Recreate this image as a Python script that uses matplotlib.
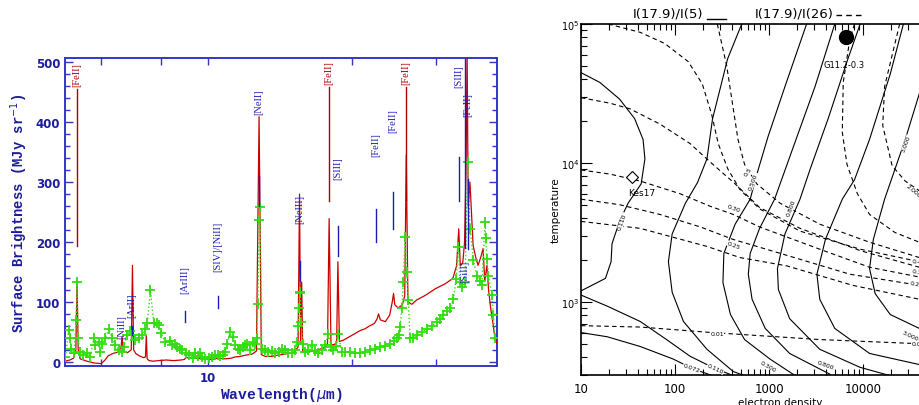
# -*- coding: utf-8 -*-
# spectrum and line-ratio diagnostic diagram
import numpy as np
import matplotlib.pyplot as plt
from matplotlib.lines import Line2D

# %% Spectrum data -------------------------------------------------------------

# red spectrum (wavelength in micron, surface brightness in MJy/sr)
red_wave = [5.04, 5.16, 5.25, 5.31, 5.34, 5.37, 5.42, 5.6, 5.8, 6.0, 6.11, 6.2,
            6.35, 6.5, 6.6, 6.63, 6.67, 6.8, 6.93, 6.97, 7.01, 7.08, 7.2, 7.35,
            7.42, 7.45, 7.48, 7.55, 7.7, 7.9, 8.2, 8.5, 8.8, 8.95, 9.0, 9.4,
            9.8, 10.2, 10.5, 10.9, 11.2, 11.4, 11.7, 12.0, 12.4, 12.65, 12.81,
            12.95, 13.2, 13.6, 14.0, 14.5, 15.2, 15.45, 15.56, 15.64, 15.72,
            15.8, 16.4, 17.0, 17.6, 17.8, 17.94, 18.1, 18.4, 18.6, 18.71, 18.85,
            19.2, 19.8, 20.3, 20.8, 21.3, 21.8, 22.3, 22.6, 22.75, 22.95, 23.5,
            24.0, 24.3, 24.45, 24.6, 25.0, 25.5, 25.8, 25.99, 26.2, 26.7, 27.3,
            28.5, 29.9, 31.3, 32.5, 33.1, 33.45, 33.7, 34.1, 34.4, 34.65, 34.82,
            35.0, 35.3, 35.84, 36.36, 36.7, 37.2, 37.6, 37.9, 38.3, 38.6, 39.0,
            39.5, 39.8, 40.2]
red_flux = [1, 3, 6, 20, 135, 20, 5, 1, -2, -3, 3, 10,
            14, 16, 25, 42, 18, 15, 20, 161, 20, 14, 10, 7,
            8, 44, 5, 2, 1, 2, 3, 2, 3, 4, 7, 6,
            5, 4, 6, 5, 6, 8, 9, 11, 13, 18, 409,
            12, 9, 9, 11, 13, 16, 25, 280, 30, 133,
            17, 17, 20, 24, 30, 239, 28, 29, 32, 167, 34,
            36, 42, 47, 52, 55, 60, 64, 72, 80, 70, 67,
            78, 100, 114, 95, 90, 95, 110, 345, 100, 96, 103,
            111, 122, 130, 139, 160, 222, 160, 165, 200, 330, 520,
            260, 300, 194, 172, 161, 175, 189, 134, 161, 120, 89,
            60, 39, 30]

# green spectrum (crosses)
green_wave = [5.05, 5.13, 5.17, 5.19, 5.26, 5.32, 5.34, 5.36, 5.42, 5.5, 5.6,
              5.69, 5.79, 5.83, 5.93, 5.97, 6.02, 6.12, 6.22, 6.32, 6.42, 6.53,
              6.63, 6.68, 6.79, 6.88, 6.96, 7.07, 7.18, 7.3, 7.42, 7.48, 7.6,
              7.72, 7.83, 7.91, 8.0, 8.16, 8.35, 8.43, 8.55, 8.64, 8.74, 8.83,
              9.0, 9.14, 9.34, 9.43, 9.55, 9.65, 9.74, 9.9, 10.06, 10.2, 10.35,
              10.53, 10.62, 10.75, 10.88, 11.0, 11.14, 11.32, 11.41, 11.6,
              11.69, 11.85, 11.97, 12.07, 12.27, 12.46, 12.57, 12.67, 12.73,
              12.83, 12.87, 12.98, 13.2, 13.4, 13.6, 13.84, 14.1, 14.3, 14.52,
              14.75, 14.99, 15.2, 15.36, 15.47, 15.53, 15.57, 15.61, 15.67,
              15.8, 15.98, 16.2, 16.5, 16.8, 17.04, 17.3, 17.6, 17.88, 18.1,
              18.31, 18.5, 18.7, 19.06, 19.4, 19.84, 20.3, 20.82, 21.3, 21.84,
              22.4, 22.92, 23.5, 24.04, 24.5, 24.83, 25.05, 25.23, 25.45, 25.63,
              25.84, 26.05, 26.25, 26.47, 26.9, 27.34, 28.0, 28.69, 29.4,
              30.1, 30.6, 31.08, 31.6, 32.09, 32.6, 33.03, 33.39, 33.66, 34.0,
              34.48, 34.93, 35.32, 35.9, 36.48, 37.0, 37.37, 37.96, 38.1,
              38.28, 38.57, 39.2, 39.51, 39.83]
green_flux = [8, 53, 39, 22, 14, 69, 133, 39, 17, 12, 14,
              8, 39, 28, 33, 17, 30, 40, 55, 39, 28, 19,
              17, 25, 44, 52, 44, 36, 39, 44, 55, 64, 119,
              64, 64, 61, 48, 33, 34, 28, 30, 25, 22, 19,
              15, 11, 6, 14, 10, 14, 8, 5, 6, 8, 12,
              11, 9, 12, 17, 30, 50, 42, 28, 22,
              19, 24, 28, 30, 19, 33, 30, 39, 97,
              236, 258, 22, 20, 17, 18, 14, 16, 21, 19,
              15, 14, 20, 33, 60, 89, 117, 114, 67,
              30, 17, 20, 28, 18, 14, 20, 28, 47, 25,
              19, 26, 47, 17, 16, 17, 15, 14, 17, 19,
              22, 25, 27, 30, 34, 39, 45, 58, 90, 133,
              208, 150, 103, 39, 40, 44, 50, 55, 60,
              67, 72, 78, 84, 89, 105, 139, 192, 133, 125,
              133, 333, 222, 170, 144, 135, 128, 233, 206,
              172, 144, 111, 78, 40]

# line identifications
id_names = ['[FeII]', '[NiII]', '[ArII]', '[ArIII]', '[SIV]/[NiII]', '[NeII]',
            '[NeIII]', '[FeII]', '[SIII]', '[FeII]', '[FeII]', '[FeII]',
            '[SIII]', '[FeII]', '[SiII]']
id_waves = [5.34, 6.61, 6.96, 8.98, 10.5, 12.81, 15.61, 17.94, 18.73, 22.48,
            24.39, 25.96, 33.5, 34.99, 34.5]
id_text_y = [461, 39, 75, 114, 152, 414, 231, 464, 305, 344, 384, 464, 459,
             410, 133]
id_mark_top = [455, None, 60, 84, 110, 310, 168, 458, 227, 255, 283, 458, 342,
               305, 505]
id_mark_bot = [194, None, 44, 67, 89, 260, 135, 269, 177, 200, 222, 270, 268,
               188, 190]
id_red = [True, False, False, False, False, False, False, True, False, False,
          False, True, False, False, False]

# %% Diagnostic diagram data (log10 electron density, log10 temperature) ------

# I(17.9)/I(5) contours (solid)
s1_ne = [1.00, 1.20, 1.41, 1.57, 1.66, 1.68, 1.64, 1.50, 1.41, 1.33, 1.32, 1.26, 1.00]
s1_t = [4.65, 4.58, 4.46, 4.32, 4.17, 4.03, 3.85, 3.71, 3.58, 3.42, 3.29, 3.17, 3.08]
s2_ne = [1.00, 1.28, 1.63, 1.91, 2.16, 2.40, 2.62]
s2_t = [3.05, 2.97, 2.86, 2.73, 2.61, 2.53, 2.47]
s3_ne = [1.00, 1.28, 1.63, 1.98, 2.19, 2.40]
s3_t = [2.78, 2.75, 2.68, 2.59, 2.52, 2.47]
s4_ne = [2.71, 2.56, 2.46, 2.40, 2.34, 2.24, 2.11, 1.97, 1.93, 1.97, 2.09, 2.34, 2.62, 2.74]
s4_t = [5.00, 4.75, 4.48, 4.32, 4.03, 3.86, 3.71, 3.49, 3.29, 3.07, 2.86, 2.66, 2.50, 2.47]
s5_ne = [3.40, 3.17, 2.99, 2.88, 2.80, 2.64, 2.52, 2.51, 2.59, 2.74, 3.01, 3.28]
s5_t = [5.00, 4.55, 4.19, 3.94, 3.74, 3.56, 3.35, 3.14, 2.91, 2.73, 2.59, 2.47]
s6_ne = [3.70, 3.49, 3.24, 3.06, 2.90, 2.80, 2.78, 2.82, 2.96, 3.22, 3.65]
s6_t = [5.00, 4.55, 4.08, 3.74, 3.53, 3.35, 3.20, 3.02, 2.81, 2.63, 2.48]
s7_ne = [3.97, 3.84, 3.63, 3.44, 3.33, 3.17, 3.09, 3.10, 3.22, 3.54, 3.97, 4.29]
s7_t = [5.00, 4.75, 4.32, 3.96, 3.74, 3.49, 3.24, 3.09, 2.88, 2.66, 2.53, 2.47]
s8_ne = [4.43, 4.29, 4.07, 3.91, 3.78, 3.60, 3.51, 3.54, 3.70, 4.07, 4.60]
s8_t = [5.00, 4.64, 4.17, 3.88, 3.74, 3.45, 3.20, 3.02, 2.81, 2.63, 2.55]
s9_ne = [4.60, 4.45, 4.23, 4.11, 4.07, 4.13, 4.29, 4.60]
s9_t = [4.50, 4.17, 3.74, 3.45, 3.24, 3.06, 2.91, 2.81]

# I(17.9)/I(26) contours (dashed)
d1_ne = [1.29, 1.63, 1.89, 2.14, 2.29, 2.39, 2.46, 2.56, 2.69, 2.90, 3.33, 3.97, 4.60]
d1_t = [5.00, 4.94, 4.86, 4.73, 4.57, 4.35, 4.14, 3.96, 3.81, 3.67, 3.51, 3.38, 3.29]
d2_ne = [1.00, 1.31, 1.52, 1.84, 2.16, 2.37, 2.64, 2.90, 3.33, 3.97, 4.60]
d2_t = [4.47, 4.43, 4.39, 4.28, 4.14, 4.01, 3.85, 3.68, 3.53, 3.37, 3.25]
d3_ne = [1.00, 1.31, 1.63, 2.05, 2.37, 2.62, 2.90, 3.54, 4.07, 4.60]
d3_t = [3.95, 3.92, 3.87, 3.78, 3.69, 3.63, 3.54, 3.38, 3.25, 3.18]
d4_ne = [1.00, 1.41, 1.84, 2.27, 2.62, 3.12, 3.86, 4.60]
d4_t = [3.74, 3.70, 3.63, 3.54, 3.45, 3.35, 3.20, 3.12]
d5_ne = [1.00, 1.63, 2.34, 2.69, 3.19, 3.89, 4.60]
d5_t = [3.58, 3.53, 3.40, 3.32, 3.26, 3.12, 3.02]
d6_ne = [1.00, 1.63, 2.40, 3.54, 4.60]
d6_t = [2.83, 2.82, 2.78, 2.73, 2.70]
d7_ne = [2.45, 2.55, 2.62, 2.67, 2.74, 2.87, 3.12, 3.54, 4.07, 4.60]
d7_t = [5.00, 4.70, 4.39, 4.17, 3.99, 3.85, 3.71, 3.56, 3.43, 3.32]
d8_ne = [3.91, 3.86, 3.79, 3.78, 3.83, 3.94, 4.07, 4.34, 4.60]
d8_t = [5.00, 4.89, 4.58, 4.22, 3.99, 3.78, 3.63, 3.50, 3.43]
d9_ne = [4.39, 4.23, 4.21, 4.31, 4.45, 4.60]
d9_t = [5.00, 4.55, 4.27, 3.98, 3.87, 3.80]

# contour labels: text, log ne, log T, angle
clab_text = ['0.110', '0.110', '0.072', '0.500', '0.800', '0.300', '0.800',
             '3.000', '3.000', '2.000', '0.5', '0.30', '0.25', '0.01',
             '0.4', '0.3', '0.25', '0.0']
clab_ne = [1.44, 2.43, 2.18, 2.83, 3.24, 2.99, 3.60, 4.46, 4.50, 4.53, 2.78,
           2.62, 2.62, 2.45, 4.57, 4.57, 4.57, 4.57]
clab_t = [3.58, 2.52, 2.53, 3.87, 3.68, 2.54, 2.55, 4.14, 2.76, 3.80, 3.94,
          3.68, 3.41, 2.77, 3.29, 3.22, 3.13, 2.70]
clab_rot = [70, -25, -20, 70, 70, -30, -20, 70, -25, -40, 55, -20, -20, 0,
            -10, -10, -10, 0]

# objects
kes_ne, kes_t = 35, 7900
g11_ne, g11_t = 6590, 80600

# %% Plot ---------------------------------------------------------------------

blue = '#3535c8'
dblue = '#1c1c9c'
mono = ['Liberation Mono', 'DejaVu Sans Mono']
serif = ['Liberation Serif', 'DejaVu Serif']

fig = plt.figure(figsize=(9.19, 4.06), dpi=100)

# left panel: spectrum
ax1 = fig.add_axes([65 / 919, 39 / 406, 432 / 919, 308 / 406])
ax1.set_xscale('log')
ax1.plot(red_wave, red_flux, color='#cc0000', lw=0.9, zorder=3)
ax1.plot(green_wave, green_flux, ls=':', color='#33dd11', lw=1.0,
         marker='+', ms=7, mew=1.3, zorder=4)

for name, w, ty, mt, mb, r in zip(id_names, id_waves, id_text_y,
                                  id_mark_top, id_mark_bot, id_red):
    col = '#aa0000' if r else '#1c1cb8'
    ax1.text(w, ty, name, rotation=90, ha='center', va='bottom', color=col,
             fontsize=7.5, family=serif, clip_on=False, zorder=5)
    if mt is not None:
        ax1.plot([w, w], [mb, mt], color=col, lw=1.0, zorder=5)

ax1.set_xlim(5.04, 40.2)
ax1.set_ylim(-7, 507)
ax1.set_xticks([10])
ax1.set_xticklabels(['10'])
ax1.set_xticks([6, 8, 20, 30], minor=True)
ax1.xaxis.set_minor_formatter(plt.NullFormatter())
ax1.set_yticks([0, 100, 200, 300, 400, 500])
ax1.set_yticks(np.arange(0, 501, 20), minor=True)
ax1.tick_params(which='both', direction='in', top=True, right=True,
                colors=blue, labelcolor=dblue, width=1.0)
ax1.tick_params(which='major', length=6, labelsize=8.5)
ax1.tick_params(which='minor', length=3.5)
ax1.tick_params(axis='x', which='both', length=5)
for lab in ax1.get_xticklabels() + ax1.get_yticklabels():
    lab.set_fontweight('bold')
for sp in ax1.spines.values():
    sp.set_color(blue)
    sp.set_linewidth(1.4)
ax1.set_xlabel(r'Wavelength($\mu$m)', color=dblue, fontsize=10.5,
               family=mono, fontweight='bold', labelpad=1)
ax1.set_ylabel(r'Surface Brightness (MJy sr$^{-1}$)', color=dblue,
               fontsize=10, family=mono, fontweight='bold', labelpad=4)

# right panel: diagnostic diagram
ax2 = fig.add_axes([581 / 919, 30 / 406, 338 / 919, 351 / 406])
ax2.set_xscale('log')
ax2.set_yscale('log')

solid = [(s1_ne, s1_t), (s2_ne, s2_t), (s3_ne, s3_t), (s4_ne, s4_t),
         (s5_ne, s5_t), (s6_ne, s6_t), (s7_ne, s7_t), (s8_ne, s8_t),
         (s9_ne, s9_t)]
dashed = [(d1_ne, d1_t), (d2_ne, d2_t), (d3_ne, d3_t), (d4_ne, d4_t),
          (d5_ne, d5_t), (d6_ne, d6_t), (d7_ne, d7_t), (d8_ne, d8_t),
          (d9_ne, d9_t)]
for ne, t in solid:
    ax2.plot(10 ** np.array(ne), 10 ** np.array(t), 'k-', lw=0.8)
for ne, t in dashed:
    ax2.plot(10 ** np.array(ne), 10 ** np.array(t), 'k--', lw=0.8,
             dashes=(4, 3))

for txt, ne, t, rot in zip(clab_text, clab_ne, clab_t, clab_rot):
    ax2.text(10 ** ne, 10 ** t, txt, fontsize=4.5, rotation=rot,
             ha='center', va='center', clip_on=False,
             bbox=dict(fc='white', ec='none', pad=0.2))

ax2.plot(kes_ne, kes_t, marker='D', ms=6.5, mfc='white', mec='k', mew=0.8)
ax2.text(kes_ne * 1.25, kes_t * 0.83, 'Kes17', fontsize=6.5, ha='center',
         va='top')
ax2.plot(g11_ne, g11_t, marker='o', ms=10, color='k')
ax2.text(g11_ne * 0.95, g11_t * 0.68, 'G11.2-0.3', fontsize=6, ha='center',
         va='top')

ax2.set_xlim(10, 10 ** 4.596)
ax2.set_ylim(10 ** 2.475, 1e5)
ax2.set_xticks([10, 100, 1000, 10000])
ax2.set_xticklabels(['10', '100', '1000', '10000'])
ax2.set_yticks([1e3, 1e4, 1e5])
ax2.set_yticklabels([r'10$^3$', r'10$^4$', r'10$^5$'])
ax2.tick_params(which='both', direction='in', top=True, right=False,
                width=0.8)
ax2.tick_params(which='major', length=8)
ax2.tick_params(which='minor', length=4)
ax2.tick_params(axis='x', labelsize=8.5, pad=5)
ax2.tick_params(axis='y', labelsize=7, pad=1)
ax2.spines['right'].set_visible(False)
for sp in ['left', 'top', 'bottom']:
    ax2.spines[sp].set_linewidth(1.2)

fig.text(556 / 919, 1 - 210 / 406, 'temperature', rotation=90, ha='center',
         va='center', fontsize=7.5)
fig.text(780 / 919, 8 / 406, 'electron density', ha='center', va='top',
         fontsize=7.5)

# title with line-style key
fig.text(668 / 919, 1 - 14 / 406, 'I(17.9)/I(5)', ha='center', va='center',
         fontsize=9.5)
fig.text(794 / 919, 1 - 14 / 406, 'I(17.9)/I(26)', ha='center', va='center',
         fontsize=9.5)
fig.add_artist(Line2D([707 / 919, 726 / 919], [1 - 20 / 406] * 2,
                      color='k', lw=1.0))
fig.add_artist(Line2D([836 / 919, 862 / 919], [1 - 16 / 406] * 2,
                      color='k', lw=1.0, ls=(0, (4, 3))))

fig.savefig('out.png', dpi=100)
